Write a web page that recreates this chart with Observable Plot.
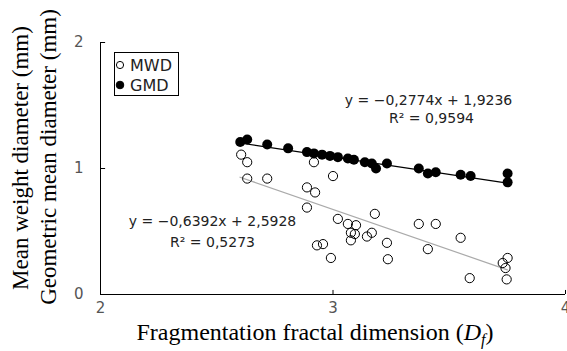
<!DOCTYPE html>
<html><head><meta charset="utf-8">
<script src="https://cdn.jsdelivr.net/npm/d3@7"></script>
<script src="https://cdn.jsdelivr.net/npm/@observablehq/plot@0.6"></script>
<style>
html,body{margin:0;padding:0;background:#fff;}
#wrap{position:relative;width:567px;height:351px;overflow:hidden;}
#legend{position:absolute;left:114px;top:52px;width:63px;height:42px;border:1px solid #000;background:#fff;font-family:"DejaVu Sans";font-size:16px;color:#222;}
#legend .row{position:absolute;left:0;height:18px;display:flex;align-items:center;white-space:nowrap;}
#legend svg{display:block;margin-left:0px;margin-right:3px;}
</style></head><body><div id="wrap"></div>
<script>
// ---- data ----
const seriesNames = ["MWD", "GMD"];
const dfMWD = [2.605, 2.631, 2.631, 2.717, 2.918, 3.000, 2.888, 2.923, 2.888, 3.180, 3.021, 3.064, 3.099, 3.077, 3.094, 3.146, 3.167, 3.077, 3.232, 2.931, 2.957, 2.991, 3.236, 3.369, 3.442, 3.549, 3.408, 3.751, 3.730, 3.742, 3.588, 3.747];
const mwd   = [1.11, 1.05, 0.92, 0.92, 1.05, 0.94, 0.85, 0.81, 0.69, 0.64, 0.60, 0.56, 0.55, 0.49, 0.48, 0.46, 0.49, 0.43, 0.41, 0.39, 0.40, 0.29, 0.28, 0.56, 0.56, 0.45, 0.36, 0.29, 0.25, 0.21, 0.13, 0.12];
const dfGMD = [2.601, 2.631, 2.717, 2.807, 2.888, 2.918, 2.953, 2.987, 3.021, 3.064, 3.090, 3.137, 3.167, 3.185, 3.232, 3.369, 3.408, 3.442, 3.549, 3.592, 3.751, 3.751];
const gmd   = [1.21, 1.23, 1.19, 1.16, 1.13, 1.12, 1.11, 1.10, 1.09, 1.08, 1.07, 1.05, 1.04, 1.00, 1.04, 1.00, 0.96, 0.97, 0.95, 0.94, 0.96, 0.89];
const fitSlopes = [-0.6392, -0.2774];     // MWD, GMD
const fitIntercepts = [2.5928, 1.9236];
const fitR2 = [0.5273, 0.9594];
const fitXRange = [2.6, 3.75];
const xTicks = [2, 3, 4];
const yTicks = [0, 1, 2];
const xTitle = "Fragmentation fractal dimension (Df)";
const yTitle1 = "Mean weight diameter (mm)";
const yTitle2 = "Geometric mean diameter (mm)";

// ---- derived tables ----
const mwdPts = dfMWD.map((x, i) => ({x, y: mwd[i]}));
const gmdPts = dfGMD.map((x, i) => ({x, y: gmd[i]}));
const fitLine = (k) => fitXRange.map(x => ({x, y: fitSlopes[k] * x + fitIntercepts[k]}));
const fmt = (v) => v.toFixed(4).replace(".", ",");
const eqText = (k) => `y = \u2212${fmt(-fitSlopes[k])}x + ${fmt(fitIntercepts[k])}`;
const r2Text = (k) => `R\u00B2 = ${fmt(fitR2[k])}`;

const annoStyle = {fontFamily: "DejaVu Sans", fontSize: 14, fill: "#222", textAnchor: "middle", lineAnchor: "middle", frameAnchor: "top-left"};

const chart = Plot.plot({
  width: 567, height: 351,
  marginLeft: 100, marginRight: 2, marginTop: 42, marginBottom: 57,
  style: {fontFamily: "DejaVu Sans", fontSize: "15px", color: "#555", background: "#fff", overflow: "visible"},
  x: {domain: [2, 4], ticks: xTicks, tickSize: 0, tickPadding: 8, label: null, tickFormat: d => String(d)},
  y: {domain: [0, 2], ticks: yTicks, tickSize: 0, tickPadding: 17, label: null, tickFormat: d => String(d)},
  marks: [
    Plot.ruleX([xTicks[0]], {stroke: "#000"}),
    Plot.ruleY([yTicks[0]], {stroke: "#000"}),
    Plot.ruleY(yTicks.slice(1), {x1: xTicks[0], x2: xTicks[0] + 0.022, stroke: "#000"}),
    Plot.ruleX(xTicks.slice(1), {y1: yTicks[0], y2: yTicks[0] + 0.032, stroke: "#000"}),
    Plot.line(fitLine(0), {x: "x", y: "y", stroke: "#aaa", strokeWidth: 1.2}),
    Plot.line(fitLine(1), {x: "x", y: "y", stroke: "#000", strokeWidth: 1.2}),
    Plot.dot(mwdPts, {x: "x", y: "y", r: 4.6, stroke: "#000", fill: "none", strokeWidth: 1}),
    Plot.dot(gmdPts, {x: "x", y: "y", r: 5, fill: "#000", stroke: "none"}),
    Plot.text([eqText(1)], {...annoStyle, dx: 328, dy: 58}),
    Plot.text([r2Text(1)], {...annoStyle, dx: 331, dy: 76}),
    Plot.text([eqText(0)], {...annoStyle, dx: 112, dy: 179}),
    Plot.text([r2Text(0)], {...annoStyle, dx: 112, dy: 200}),
    Plot.text([yTitle1], {frameAnchor: "left", dx: -80, dy: -10.5, rotate: -90, textAnchor: "middle", lineAnchor: "middle", fontFamily: "Liberation Serif", fontSize: 23, fill: "#000"}),
    Plot.text([yTitle2], {frameAnchor: "left", dx: -52, dy: -11.5, rotate: -90, textAnchor: "middle", lineAnchor: "middle", fontFamily: "Liberation Serif", fontSize: 23, fill: "#000"}),
    Plot.text([xTitle], {frameAnchor: "bottom", dx: -18, dy: 38, textAnchor: "middle", lineAnchor: "middle", fontFamily: "Liberation Serif", fontSize: 24, fill: "#000"})
  ]
});

// rich text for x title: italic D with subscript f
chart.querySelectorAll("text").forEach(t => {
  if (t.textContent === xTitle) {
    const ns = "http://www.w3.org/2000/svg";
    while (t.firstChild) t.removeChild(t.firstChild);
    const add = (s, attrs) => { const ts = document.createElementNS(ns, "tspan"); ts.textContent = s; for (const k in attrs) ts.setAttribute(k, attrs[k]); t.appendChild(ts); };
    add("Fragmentation fractal dimension (", {});
    add("D", {"font-style": "italic"});
    add("f", {"font-style": "italic", "font-size": "16", "dy": "5"});
    add(")", {"dy": "-5"});
  }
});

const wrap = document.getElementById("wrap");
wrap.appendChild(chart);

// legend
const legend = document.createElement("div");
legend.id = "legend";
seriesNames.forEach((name, i) => {
  const row = document.createElement("div");
  row.className = "row";
  row.style.top = (3 + i * 20) + "px";
  const filled = i === 1;
  row.innerHTML = `<svg width="12" height="12" viewBox="0 0 12 12"><circle cx="5" cy="6" r="${filled ? 3.8 : 3.6}" fill="${filled ? "#000" : "none"}" stroke="#000" stroke-width="1"/></svg><span>${name}</span>`;
  legend.appendChild(row);
});
wrap.appendChild(legend);
</script></body></html>
